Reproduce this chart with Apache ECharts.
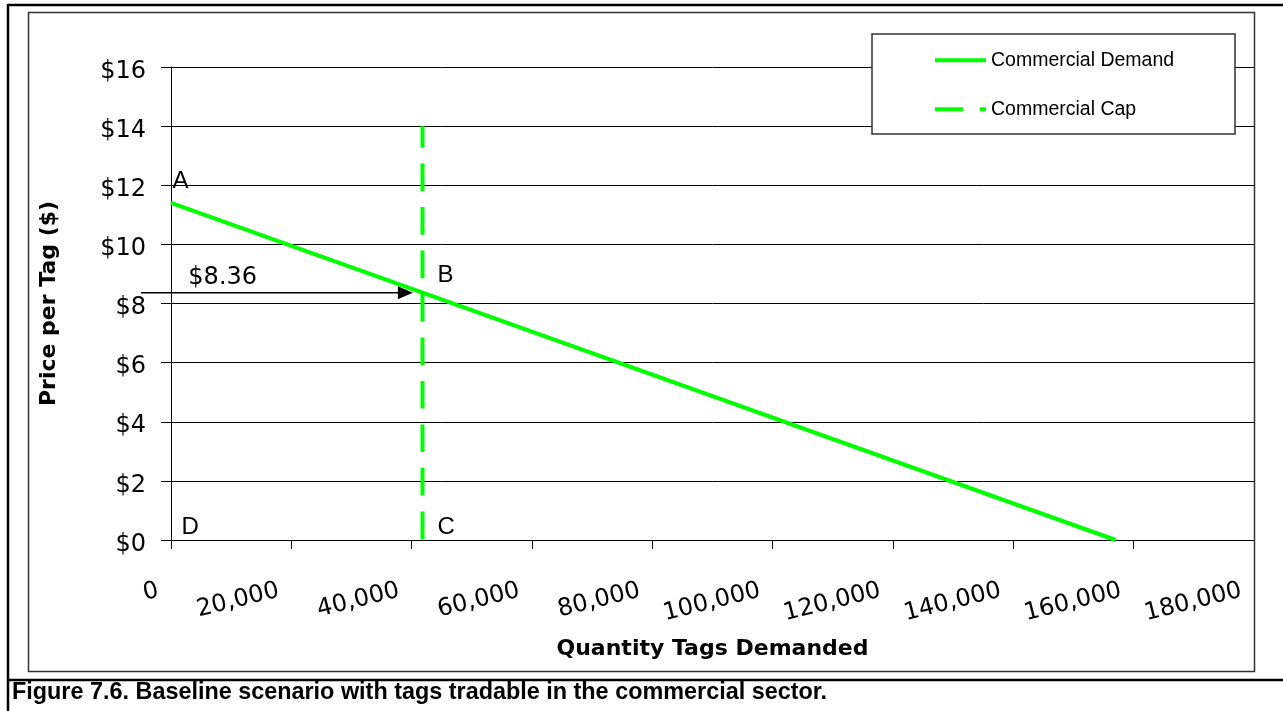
<!DOCTYPE html>
<html>
<head>
<meta charset="utf-8">
<script src="https://cdn.jsdelivr.net/npm/echarts@6/dist/echarts.min.js"></script>
<style>
  html, body { margin: 0; padding: 0; background: #ffffff; }
  #chart { width: 1283px; height: 711px; }
</style>
</head>
<body>
<div id="chart"></div>
<script>
// Commercial demand curve (quantity of tags, price per tag)
const demandQuantity = [0, 157000];
const demandPrice = [11.4, 0];

// Commercial cap: vertical line at the capped quantity
const capQuantity = [41800, 41800];
const capPrice = [14, 0];

// Equilibrium price at the cap, pointed at by the arrow (from, to quantity)
const capEquilibriumPrice = 8.36;
const arrowQuantity = [-5000, 40200];

// Point letters and the "$8.36" note
const pointNames = ['A', 'B', 'C', 'D', '$8.36'];
const pointQuantity = [150, 44200, 44200, 1650, 2800];
const pointPrice = [12.13, 8.95, 0.42, 0.42, 8.87];

const seriesNames = ['Commercial Demand', 'Commercial Cap'];
const captionText = 'Figure 7.6. Baseline scenario with tags tradable in the commercial sector.';

const GREEN = '#00ff00';
const numFont = 'DejaVu Sans';
const textFont = 'Liberation Sans, Arial, sans-serif';

const chart = echarts.init(document.getElementById('chart'), null, { renderer: 'canvas' });

const zip = (xs, ys) => xs.map((x, i) => [x, ys[i]]);

const letterData = pointNames.map((n, i) => ({
  name: n,
  value: [pointQuantity[i], pointPrice[i]],
  label: { fontFamily: n.startsWith('$') ? numFont : textFont }
}));

// legend swatches: solid bar and dash pattern of the cap line
const solidIcon = 'path://M0,0 L51,0 L51,4 L0,4 Z';
const dashIcon = 'path://M0,0 L28,0 L28,4 L0,4 Z M45,0 L51,0 L51,4 L45,4 Z';

const option = {
  backgroundColor: '#ffffff',
  animation: false,
  grid: { left: 171, right: 29, top: 67, bottom: 171, containLabel: false },
  xAxis: {
    type: 'value',
    min: 0, max: 180000, interval: 20000,
    name: 'Quantity Tags Demanded',
    nameLocation: 'middle',
    nameGap: 98,
    nameTextStyle: { fontFamily: numFont, fontWeight: 'bold', fontSize: 22, color: '#000' },
    axisLine: { show: true, lineStyle: { color: '#000', width: 1 } },
    axisTick: { show: true, length: 9, lineStyle: { color: '#000' } },
    splitLine: { show: false },
    axisLabel: {
      rotate: 14,
      margin: 47,
      padding: [0, 13, 0, 0],
      fontFamily: numFont, fontSize: 24, color: '#000',
      formatter: v => v.toLocaleString('en-US')
    }
  },
  yAxis: {
    type: 'value',
    min: 0, max: 16, interval: 2,
    name: 'Price per Tag ($)',
    nameLocation: 'middle',
    nameRotate: 90,
    nameGap: 111,
    nameTextStyle: { fontFamily: numFont, fontWeight: 'bold', fontSize: 22, color: '#000' },
    axisLine: { show: true, lineStyle: { color: '#000', width: 1 } },
    axisTick: { show: true, length: 10, lineStyle: { color: '#000' } },
    splitLine: { show: true, lineStyle: { color: '#000', width: 1 } },
    axisLabel: {
      margin: 25,
      verticalAlign: 'top',
      lineHeight: 9,
      fontFamily: numFont, fontSize: 24, color: '#000',
      formatter: v => '$' + v
    }
  },
  legend: {
    orient: 'vertical',
    left: 935, top: 50.2,
    padding: 0,
    itemWidth: 51, itemHeight: 20, itemGap: 29,
    textStyle: { fontFamily: textFont, fontSize: 19.5, color: '#000', lineHeight: 20 },
    data: [
      { name: seriesNames[0], icon: solidIcon },
      { name: seriesNames[1], icon: dashIcon }
    ]
  },
  series: [
    {
      name: seriesNames[0],
      type: 'line',
      symbol: 'none',
      data: zip(demandQuantity, demandPrice),
      lineStyle: { color: GREEN, width: 4 },
      itemStyle: { color: GREEN },
      z: 3
    },
    {
      name: seriesNames[1],
      type: 'line',
      symbol: 'none',
      data: zip(capQuantity, capPrice),
      lineStyle: { color: GREEN, width: 4, type: [27.7, 15.8], dashOffset: 6.2 },
      itemStyle: { color: GREEN },
      z: 3
    },
    {
      // horizontal arrow pointing at the equilibrium price on the cap
      name: 'arrow',
      type: 'custom',
      silent: true,
      clip: false,
      encode: { x: [0, 1], y: 2 },
      data: [[arrowQuantity[0], arrowQuantity[1], capEquilibriumPrice]],
      renderItem: (params, api) => {
        const from = api.coord([api.value(0), api.value(2)]);
        const tip = api.coord([api.value(1), api.value(2)]);
        return {
          type: 'group',
          children: [
            {
              type: 'line',
              shape: { x1: from[0], y1: from[1], x2: tip[0] - 8, y2: tip[1] },
              style: { stroke: '#000', lineWidth: 1.5 }
            },
            {
              type: 'polygon',
              shape: { points: [[tip[0], tip[1]], [tip[0] - 15, tip[1] - 6.5], [tip[0] - 15, tip[1] + 6.5]] },
              style: { fill: '#000' }
            }
          ]
        };
      },
      z: 5
    },
    {
      name: 'points',
      type: 'scatter',
      symbolSize: 1,
      silent: true,
      clip: false,
      itemStyle: { color: 'rgba(0,0,0,0)', opacity: 1 },
      label: {
        show: true, position: 'right', distance: 0,
        formatter: '{b}', fontSize: 24, color: '#000', fontFamily: textFont
      },
      data: letterData,
      z: 5
    }
  ],
  graphic: [
    // outer figure frame
    { type: 'line', shape: { x1: 8, y1: 5, x2: 1283, y2: 5 }, style: { stroke: '#000', lineWidth: 2.5 }, z: 10 },
    { type: 'line', shape: { x1: 8, y1: 4, x2: 8, y2: 711 }, style: { stroke: '#000', lineWidth: 2.5 }, z: 10 },
    { type: 'line', shape: { x1: 8, y1: 680, x2: 1283, y2: 680 }, style: { stroke: '#000', lineWidth: 2.5 }, z: 10 },
    // chart area frame
    { type: 'rect', shape: { x: 28.5, y: 12.5, width: 1226, height: 659 }, style: { fill: null, stroke: '#333', lineWidth: 1.5 }, z: 10 },
    // legend box
    { type: 'rect', shape: { x: 872, y: 34, width: 363, height: 100 }, style: { fill: '#fff', stroke: '#333', lineWidth: 1.5 }, z: 3 },
    // caption
    { type: 'text', left: 12, top: 681, style: { text: captionText, fontFamily: textFont, fontWeight: 'bold', fontSize: 23.4, fill: '#000', textVerticalAlign: 'top' }, z: 10 }
  ]
};

chart.setOption(option);
</script>
</body>
</html>
